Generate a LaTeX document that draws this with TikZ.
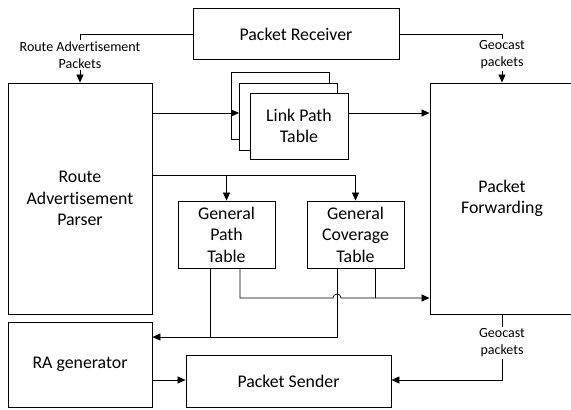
\documentclass[tikz,border=0pt]{standalone}
\usepackage{fontspec}
\setmainfont{Carlito}[Ligatures=NoCommon]
\usetikzlibrary{arrows.meta}
\tikzset{
  blk/.style={draw, line width=0.9pt, fill=white, align=center, inner sep=0pt,
    font=\fontsize{17.8}{21.5}\selectfont},
  card/.style={draw, line width=0.9pt, fill=white, inner sep=0pt,
    minimum width=98pt, minimum height=67pt},
  conn/.style={line width=0.7pt},
  tip/.style={-{Triangle[length=8pt,width=7pt]}},
  lbl/.style={fill=white, align=center, inner xsep=1pt, inner ysep=2pt,
    font=\fontsize{14}{17}\selectfont},
}
\begin{document}
\begin{tikzpicture}[x=1pt,y=-1pt]
\useasboundingbox (0,0) rectangle (571,410);
\clip (0,0) rectangle (571,410);

% blocks
\node[blk, minimum width=206pt, minimum height=51pt] (recv) at (296,34) {Packet Receiver};
\node[blk, minimum width=144pt, minimum height=231pt] (parser) at (80,198.5) {Route\\Advertisement\\Parser};
\node[blk, minimum width=144pt, minimum height=231pt] (pf) at (502,198.5) {Packet\\Forwarding};
\node[card] (lpt3) at (280.5,105.5) {};
\node[card] (lpt2) at (288.5,116.5) {};
\node[blk, minimum width=98pt, minimum height=66pt] (lpt) at (299,126) {Link Path\\Table};
\node[blk, minimum width=97pt, minimum height=67pt] (gpt) at (226.5,234.5) {General\\Path\\Table};
\node[blk, minimum width=97pt, minimum height=67pt] (gct) at (355.5,234.5) {General\\Coverage\\Table};
\node[blk, minimum width=144pt, minimum height=85pt] (ragen) at (80,364.5) {RA generator};
\node[blk, minimum width=205pt, minimum height=52pt] (sender) at (288.5,381) {Packet Sender};

% helper points
\coordinate (ya) at (0,113);
\coordinate (yb) at (0,175);
\coordinate (yc) at (0,298);
\coordinate (yd) at (0,337);
\coordinate (ye) at (0,380);
\coordinate (gpa) at ([xshift=-16.5pt]gpt.south);
\coordinate (gpb) at ([xshift=13.5pt]gpt.south);
\coordinate (gca) at ([xshift=-18.5pt]gct.south);
\coordinate (gcb) at ([xshift=19.5pt]gct.south);

% incoming packets
\draw[conn,tip] (recv.west) -| (parser.north);
\node[lbl] (rap) at (80,55) {Route Advertisement\\Packets};
\draw[conn,tip] (recv.east) -| (pf.north);
\node[lbl] (gpin) at (502,55) {Geocast\\packets};

% link path table
\draw[conn,tip] (parser.east |- ya) -- (lpt2.west |- ya);
\draw[conn,tip] (lpt.east |- ya) -- (pf.west |- ya);

% general tables
\draw[conn,tip] (parser.east |- yb) -| (gct.north);
\draw[conn,tip] (gpt.north |- yb) -- (gpt.north);

% feedback to RA generator
\draw[conn,tip] (gca) |- (ragen.east |- yd);
\draw[conn] (gpa) -- (gpa |- yd);

% tables to forwarding, hopping over the feedback line
\draw[conn,tip] (gpb) |- ([xshift=-4pt]gca |- yc) arc[start angle=180, end angle=0, radius=4pt] -- (pf.west |- yc);
\draw[conn] (gcb) -- (gcb |- yc);

% outgoing packets
\draw[conn,tip] (ragen.east |- ye) -- (sender.west |- ye);
\draw[conn,tip] (pf.south) |- (sender.east |- ye);
\node[lbl] (gpout) at (502,343) {Geocast\\packets};
\end{tikzpicture}
\end{document}
